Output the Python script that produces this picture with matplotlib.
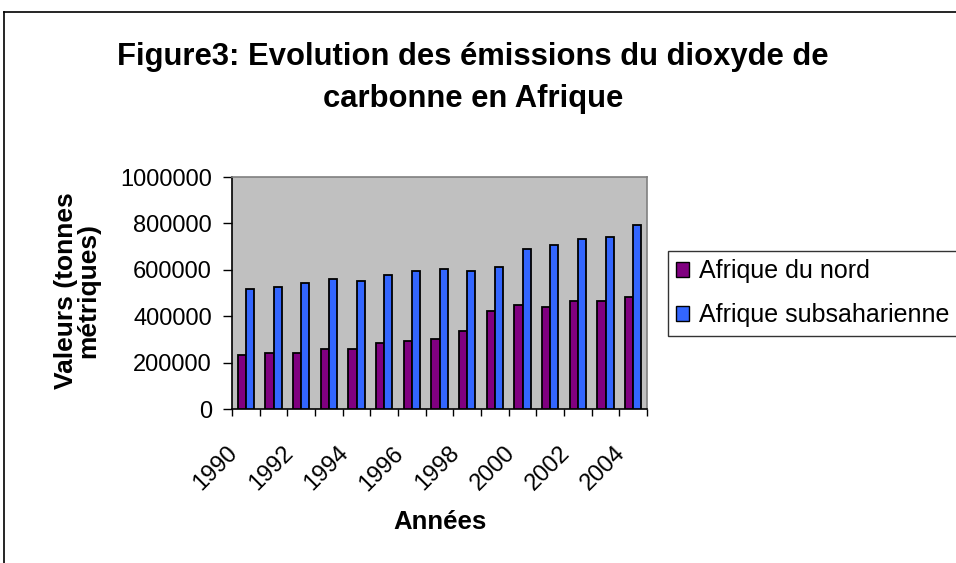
import numpy as np
import matplotlib.pyplot as plt
from matplotlib.lines import Line2D
from matplotlib.patches import Patch
from matplotlib.transforms import ScaledTranslation

# data
years = list(range(1990, 2005))
nord = [233000, 241000, 241000, 257000, 257000, 284000, 292000, 300000,
        335000, 422000, 448000, 440000, 464000, 464000, 483000]
subsaharienne = [517000, 526000, 542000, 560000, 552000, 576000, 595000, 602000,
                 595000, 612000, 690000, 705000, 733000, 741000, 793000]
yticks = [0, 200000, 400000, 600000, 800000, 1000000]

plt.rcParams['font.family'] = ['Liberation Sans', 'DejaVu Sans']

W, H = 956, 563
fig = plt.figure(figsize=(W / 100, H / 100), dpi=100, facecolor='white')
ax = fig.add_axes([232 / W, 1 - 409 / H, (647 - 232) / W, (409 - 177) / H])
ax.set_facecolor('#C0C0C0')

x = np.arange(len(years))
bw = 0.29
ax.bar(x - bw / 2, nord, bw, color='#800080', edgecolor='black', linewidth=1.3,
       label='Afrique du nord', zorder=3)
ax.bar(x + bw / 2, subsaharienne, bw, color='#3366FF', edgecolor='black', linewidth=1.3,
       label='Afrique subsaharienne', zorder=3)

ax.set_xlim(-0.5, len(years) - 0.5)
ax.set_ylim(0, 1000000)
ax.set_yticks(yticks)
ax.set_yticklabels([str(v) for v in yticks], fontsize=17)
ax.tick_params(axis='y', direction='out', length=6.5, width=1, pad=8)

# labels every other year, tick marks on category boundaries
ax.set_xticks(x[::2])
ax.set_xticklabels([str(y) for y in years[::2]], rotation=45, ha='right',
                   va='top', rotation_mode='anchor', fontsize=17)
ax.tick_params(axis='x', which='major', length=0, pad=24)
shift = ScaledTranslation(-19 / 100, 0, fig.dpi_scale_trans)
for lab in ax.get_xticklabels():
    lab.set_transform(lab.get_transform() + shift)
ax.set_xticks(np.arange(-0.5, len(years), 1.0), minor=True)
ax.tick_params(axis='x', which='minor', direction='out', length=5, width=1)

for s in ['left', 'bottom']:
    ax.spines[s].set_color('black')
    ax.spines[s].set_linewidth(1.2)
for s in ['top', 'right']:
    ax.spines[s].set_color('#808080')
    ax.spines[s].set_linewidth(1.2)

fig.text(473 / W, 1 - 78 / H,
         'Figure3: Evolution des émissions du dioxyde de\ncarbonne en Afrique',
         ha='center', va='center', fontsize=22.3, fontweight='bold', linespacing=1.52)
fig.text(77 / W, 1 - 291 / H, 'Valeurs (tonnes\nmétriques)', rotation=90,
         ha='center', va='center', fontsize=19, fontweight='bold',
         multialignment='center', linespacing=0.93)
fig.text(440 / W, 1 - 522 / H, 'Années', ha='center', va='center',
         fontsize=18.5, fontweight='bold')

handles = [Patch(facecolor='#800080', edgecolor='black', linewidth=1),
           Patch(facecolor='#3366FF', edgecolor='black', linewidth=1)]
leg = fig.legend(handles, ['Afrique du nord', 'Afrique subsaharienne'],
                 loc='upper left', bbox_to_anchor=(668 / W, 1 - 251 / H),
                 fontsize=18, frameon=True, fancybox=False, edgecolor='black',
                 handlelength=0.52, handleheight=0.52, handletextpad=0.4,
                 labelspacing=0.8, borderpad=0.33, borderaxespad=0)
leg.get_frame().set_linewidth(1)

# chart area border (runs off the right and bottom of the image)
fig.add_artist(Line2D([4 / W, 1.0], [1 - 12 / H, 1 - 12 / H], color='black', lw=1.2))
fig.add_artist(Line2D([4 / W, 4 / W], [1 - 12 / H, 0.0], color='black', lw=1.2))

fig.savefig('out.png', dpi=100, facecolor='white')
